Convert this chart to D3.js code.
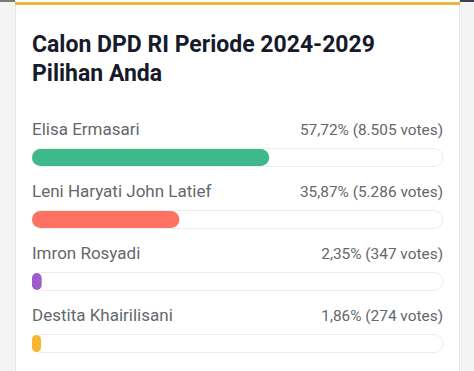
<!DOCTYPE html>
<html>
<head>
<meta charset="utf-8">
<script src="https://cdn.jsdelivr.net/npm/d3@7"></script>
<style>
  body { margin: 0; background: #f4f4f4; }
  svg { display: block; font-family: Roboto, "Noto Sans", sans-serif; }
</style>
</head>
<body>
<script>
// poll data
var names = ["Elisa Ermasari", "Leni Haryati John Latief", "Imron Rosyadi", "Destita Khairilisani"];
var percents = [57.72, 35.87, 2.35, 1.86];
var votes = ["8.505", "5.286", "347", "274"];
var colors = ["#3eb98c", "#fd7262", "#9c5ccc", "#f9b530"];

var width = 474,
    height = 371;

var svg = d3.select("body")
    .append("svg")
    .attr("width", width)
    .attr("height", height);

// top strip (page header behind the card)
svg.append("rect").attr("x", 0).attr("y", 0).attr("width", 285).attr("height", 2).attr("fill", "#7c7a72");
svg.append("rect").attr("x", 285).attr("y", 0).attr("width", width - 285).attr("height", 2).attr("fill", "#3a4150");

// card
svg.append("rect")
    .attr("x", 15.5).attr("y", -6)
    .attr("width", 444).attr("height", height + 20)
    .attr("rx", 6)
    .attr("fill", "#fff")
    .attr("stroke", "#e6e6e6");
svg.append("rect")
    .attr("x", 15).attr("y", 2)
    .attr("width", 445).attr("height", 3)
    .attr("fill", "#e8b83c");

// title
var title = svg.append("text")
    .attr("x", 32).attr("y", 52)
    .attr("font-size", 23)
    .attr("font-weight", 700)
    .attr("fill", "#161a2b");
title.append("tspan").attr("x", 32).text("Calon DPD RI Periode 2024-2029");
title.append("tspan").attr("x", 32).attr("dy", 29).text("Pilihan Anda");

// scales
var x = d3.scaleLinear().domain([0, 100]).range([32, 443]);
var y = d3.scaleBand().domain(names).range([110, 358]);

var rows = svg.selectAll(".row")
    .data(names)
    .enter()
    .append("g")
    .attr("class", "row")
    .attr("transform", function(d){ return "translate(0," + y(d) + ")"; });

rows.append("text")
    .attr("x", 32).attr("y", 25)
    .attr("font-size", 17)
    .attr("fill", "#64676c")
    .text(function(d){ return d; });

rows.append("text")
    .attr("x", 443).attr("y", 25)
    .attr("text-anchor", "end")
    .attr("font-size", 15.4)
    .attr("fill", "#64676c")
    .text(function(d, i){
        return percents[i].toFixed(2).replace(".", ",") + "% (" + votes[i] + " votes)";
    });

// track
rows.append("rect")
    .attr("x", x(0)).attr("y", 38.5)
    .attr("width", x(100) - x(0)).attr("height", 18)
    .attr("rx", 9)
    .attr("fill", "#fff")
    .attr("stroke", "#ececec");

// bar
rows.append("rect")
    .attr("x", x(0)).attr("y", 39)
    .attr("width", function(d, i){ return Math.max(x(percents[i]) - x(0), 9); })
    .attr("height", 17)
    .attr("rx", function(d, i){ return Math.min(8.5, Math.max(x(percents[i]) - x(0), 9) / 2); })
    .attr("fill", function(d, i){ return colors[i]; });
</script>
</body>
</html>
